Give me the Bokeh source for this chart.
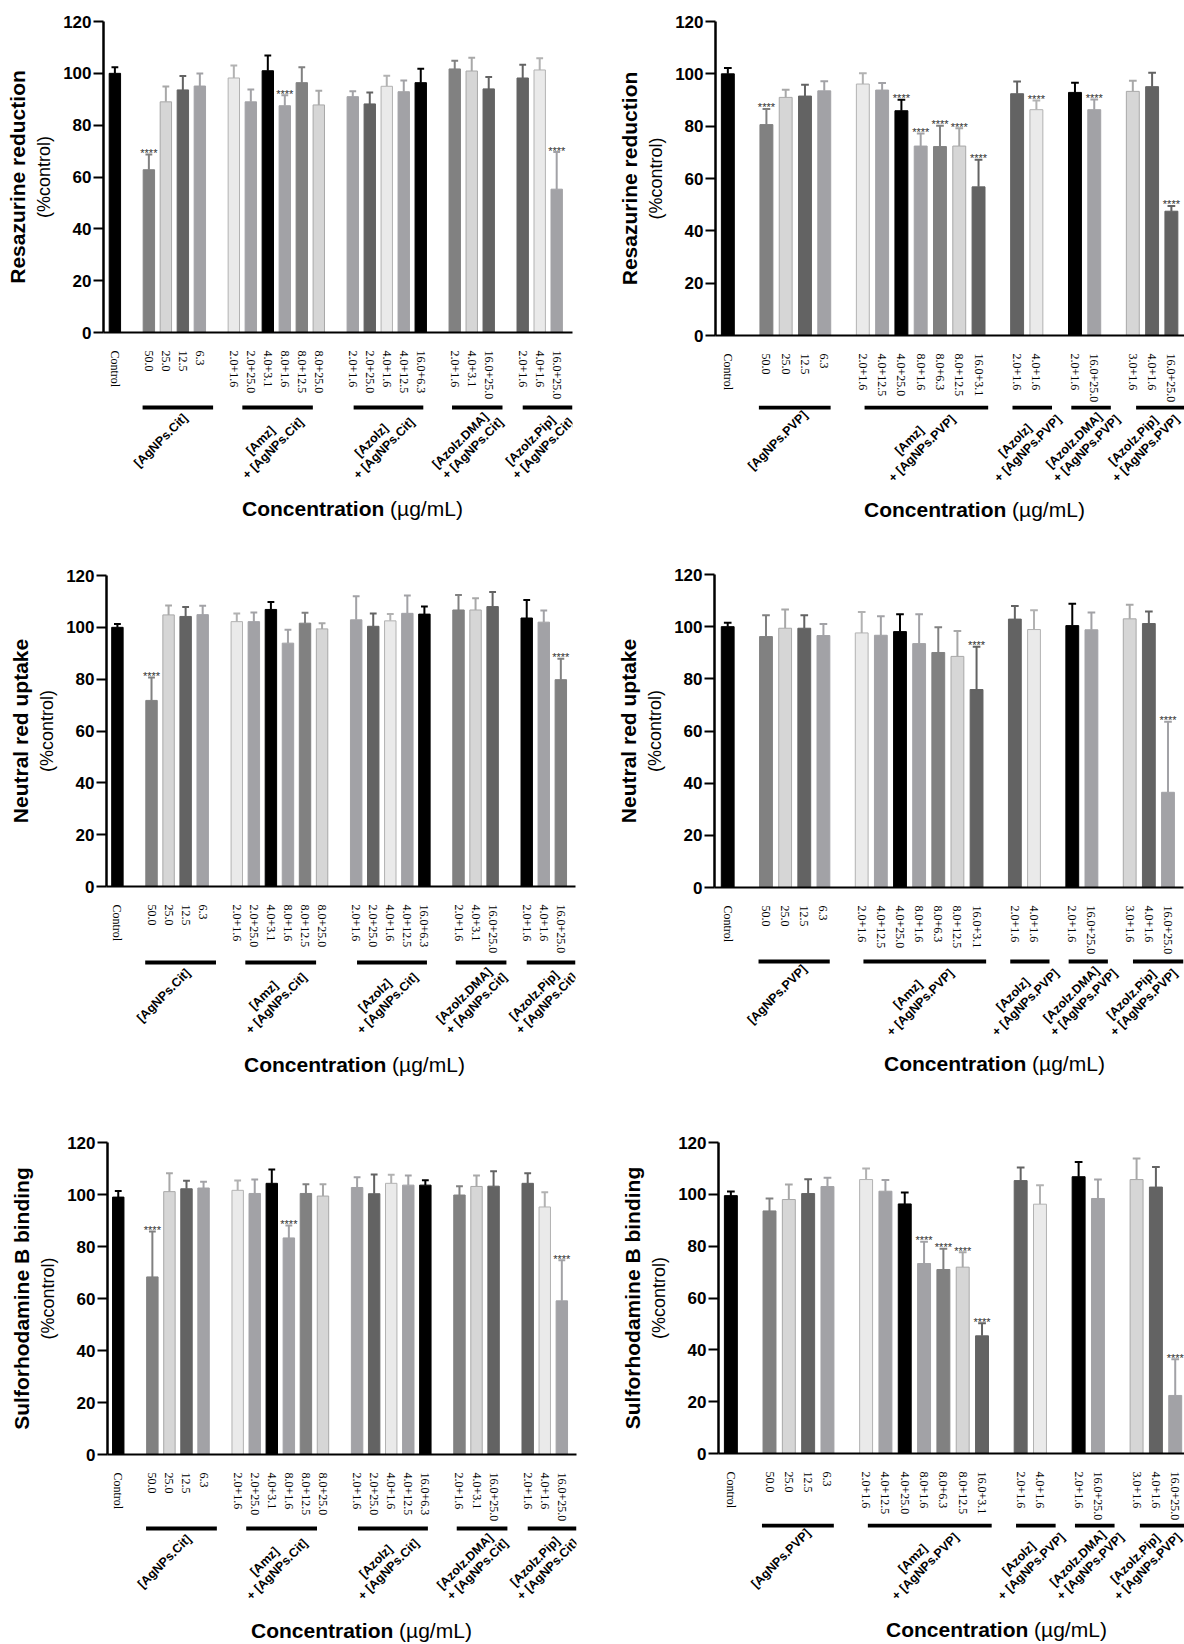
import math
from bokeh.plotting import figure
from bokeh.models import FixedTicker, Range1d, ColumnDataSource, LinearAxis
from bokeh.layouts import row, column
from bokeh.core.properties import value
from bokeh.embed import file_html
from bokeh.resources import INLINE

# ---------------- data ----------------
K, D, M, G, L, W = "#000000", "#636363", "#818181", "#a2a2a6", "#d6d6d6", "#eaeaea"

cit_labels = ["Control", "50.0", "25.0", "12.5", "6.3",
              "2.0+1.6", "2.0+25.0", "4.0+3.1", "8.0+1.6", "8.0+12.5", "8.0+25.0",
              "2.0+1.6", "2.0+25.0", "4.0+1.6", "4.0+12.5", "16.0+6.3",
              "2.0+1.6", "4.0+3.1", "16.0+25.0",
              "2.0+1.6", "4.0+1.6", "16.0+25.0"]
cit_sizes = [1, 4, 6, 5, 3, 3]
cit_groups = [["[AgNPs.Cit]"], ["[Amz]", "+ [AgNPs.Cit]"], ["[Azolz]", "+ [AgNPs.Cit]"],
              ["[Azolz.DMA]", "+ [AgNPs.Cit]"], ["[Azolz.Pip]", "+ [AgNPs.Cit]"]]

pvp_labels = ["Control", "50.0", "25.0", "12.5", "6.3",
              "2.0+1.6", "4.0+12.5", "4.0+25.0", "8.0+1.6", "8.0+6.3", "8.0+12.5", "16.0+3.1",
              "2.0+1.6", "4.0+1.6",
              "2.0+1.6", "16.0+25.0",
              "3.0+1.6", "4.0+1.6", "16.0+25.0"]
pvp_sizes = [1, 4, 7, 2, 2, 3]
pvp_groups = [["[AgNPs.PVP]"], ["[Amz]", "+ [AgNPs.PVP]"], ["[Azolz]", "+ [AgNPs.PVP]"],
              ["[Azolz.DMA]", "+ [AgNPs.PVP]"], ["[Azolz.Pip]", "+ [AgNPs.PVP]"]]

res_cit_mean = [100.0, 62.8, 89.0, 93.6, 95.1, 98.2, 89.0, 101.0, 87.5, 96.4, 87.8,
                91.0, 88.2, 95.0, 92.9, 96.4, 101.7, 100.9, 94.0, 98.2, 101.3, 55.3]
res_cit_sd = [2.3, 5.9, 5.9, 5.4, 4.8, 4.8, 4.8, 5.9, 4.0, 5.9, 5.5,
              2.1, 4.4, 4.1, 4.3, 5.4, 3.2, 5.1, 4.6, 5.1, 4.5, 14.3]
res_cit_colors = [K, M, L, D, G, W, G, K, G, M, L, G, D, W, G, K, M, L, D, D, W, G]
res_cit_stars = [1, 8, 21]

nr_cit_mean = [100.0, 71.8, 104.8, 104.2, 104.9, 102.2, 102.2, 106.9, 93.9, 101.6, 99.4,
               102.9, 100.4, 102.5, 105.4, 105.1, 106.7, 106.7, 108.0, 103.6, 102.0, 79.8]
nr_cit_sd = [1.3, 8.8, 3.6, 3.6, 3.4, 3.1, 3.5, 2.9, 5.2, 4.0, 2.2,
             9.1, 4.9, 2.6, 6.9, 2.9, 5.8, 4.5, 5.6, 6.9, 4.5, 8.1]
nr_cit_colors = [K, M, L, D, G, W, G, K, G, M, L, G, D, W, G, K, M, L, D, K, G, M]
nr_cit_stars = [1, 21]

srb_cit_mean = [99.0, 68.3, 101.1, 102.2, 102.5, 101.6, 100.4, 104.3, 83.3, 100.4, 99.4,
                102.7, 100.3, 104.3, 103.6, 103.6, 99.8, 103.1, 103.2, 104.3, 95.2, 59.1]
srb_cit_sd = [2.3, 17.5, 7.1, 3.1, 2.4, 3.8, 5.4, 5.3, 4.8, 3.5, 4.5,
              3.9, 7.4, 3.3, 3.7, 1.9, 3.4, 4.2, 5.7, 3.9, 5.7, 15.6]
srb_cit_colors = [K, M, L, D, G, W, G, K, G, M, L, G, D, W, G, K, M, L, D, D, W, G]
srb_cit_stars = [1, 8, 21]

res_pvp_mean = [100.0, 80.6, 91.0, 91.5, 93.5, 96.1, 93.8, 85.9, 72.4, 72.2, 72.4, 56.8,
                92.4, 86.3, 92.9, 86.3, 93.3, 95.1, 47.5]
res_pvp_sd = [2.2, 6.0, 2.9, 4.3, 3.7, 4.1, 2.7, 4.2, 4.8, 8.0, 6.8, 10.4,
              4.7, 3.5, 3.7, 3.9, 4.1, 5.3, 2.0]
res_pvp_colors = [K, M, L, D, G, W, G, K, G, M, L, D, D, W, K, G, L, D, D]
res_pvp_stars = [1, 7, 8, 9, 10, 11, 13, 15, 18]

nr_pvp_mean = [100.0, 96.2, 99.4, 99.4, 96.6, 97.6, 96.7, 98.1, 93.5, 90.1, 88.6, 75.9,
               102.9, 98.9, 100.4, 98.8, 103.0, 101.2, 36.5]
nr_pvp_sd = [1.5, 8.2, 7.2, 5.0, 4.4, 8.0, 7.3, 6.7, 11.3, 9.7, 9.7, 16.4,
             5.0, 7.4, 8.4, 6.6, 5.4, 4.6, 27.0]
nr_pvp_colors = [K, M, L, D, G, W, G, K, G, M, L, D, D, W, K, G, L, D, G]
nr_pvp_stars = [11, 18]

srb_pvp_mean = [99.5, 93.6, 98.0, 100.3, 103.0, 105.7, 101.2, 96.3, 73.3, 71.0, 71.9, 45.4,
                105.3, 96.2, 106.8, 98.4, 105.7, 102.8, 22.4]
srb_pvp_sd = [1.6, 4.8, 5.8, 5.5, 3.4, 4.3, 4.3, 4.4, 8.4, 8.0, 5.8, 4.9,
              5.1, 7.3, 5.7, 7.3, 8.1, 7.7, 14.0]
srb_pvp_colors = [K, M, L, D, G, W, G, K, G, M, L, D, D, W, K, G, L, D, G]
srb_pvp_stars = [8, 9, 10, 11, 18]

y_ticks = [0, 20, 40, 60, 80, 100, 120]
ylabels = ["Resazurine reduction", "Neutral red uptake", "Sulforhodamine B binding"]
ysub = "(%control)"
xtitle_bold = "Concentration"
xtitle_unit = "(\u00b5g/mL)"

# ---------------- layout ----------------
OUTLINE = {K: K, D: D, M: M, G: G, L: "#a8a8a8", W: "#b2b2b2"}
SANS = "Liberation Sans"
SERIF = "Liberation Serif"
FIG_W = 592
BBM = 70  # space under the x axis kept inside the main figure

CIT_SPANS = [(1.63, 5.78), (7.5, 11.65), (14.05, 18.15), (19.84, 22.81), (24.0, None)]
PVP_SPANS = [(1.61, 5.33), (7.09, 13.5), (14.76, 16.81), (17.81, 19.86), (21.17, None)]


def positions(sizes):
    pos, p = [], 0
    for s in sizes:
        for _ in range(s):
            pos.append(p)
            p += 1
        p += 1
    return pos


def panel(means, sds, colors, stars, labels, sizes, groups, spans, ylabel,
          bl, xr, bt, fh, row_h, ul, tcx, tb, last_shift=0):
    fw = FIG_W - bl - max(0, FIG_W - bl - 469)
    br = FIG_W - bl - fw
    sx = fw / (xr[1] - xr[0])
    sy = fh / 120.0
    main_h = bt + fh + BBM
    below_h = row_h - main_h

    p = figure(width=FIG_W, height=main_h, title=None, toolbar_location=None,
               output_backend="svg", x_range=Range1d(*xr), y_range=Range1d(0, 120),
               min_border_left=bl, min_border_right=br, min_border_top=bt,
               min_border_bottom=BBM, background_fill_color="white",
               border_fill_color="white")
    p.outline_line_color = None
    p.xgrid.visible = False
    p.ygrid.visible = False

    pos = positions(sizes)
    tops = [m + s for m, s in zip(means, sds)]
    src = ColumnDataSource(dict(
        x=pos, top=means, hi=tops, color=colors, line=[OUTLINE[c] for c in colors],
        cl=[x - 0.2 for x in pos], cr=[x + 0.2 for x in pos]))
    p.segment(x0="x", y0="top", x1="x", y1="hi", line_color="line", line_width=2, source=src)
    p.segment(x0="cl", y0="hi", x1="cr", y1="hi", line_color="line", line_width=2, source=src)
    p.vbar(x="x", top="top", bottom=0, width=0.67, fill_color="color", line_color="line",
           line_width=1, source=src)

    p.text(x=[pos[i] for i in stars], y=[tops[i] + 1.5 / sy for i in stars],
           text=["****"] * len(stars), text_font=value(SANS), text_font_size="11px",
           text_align="center", text_baseline="alphabetic", text_color="#303030")

    xa = p.xaxis[0]
    xa.ticker = FixedTicker(ticks=pos)
    xa.major_label_overrides = {int(x): t for x, t in zip(pos, labels)}
    xa.major_label_orientation = "vertical"
    xa.major_label_text_font = SERIF
    xa.major_label_text_font_size = "12px"
    xa.major_label_text_color = "black"
    xa.major_label_standoff = 12
    xa.major_tick_line_color = None
    xa.minor_tick_line_color = None
    xa.axis_line_width = 2
    xa.axis_line_color = "black"

    ya = p.yaxis[0]
    ya.ticker = FixedTicker(ticks=y_ticks)
    ya.major_tick_out = 10
    ya.major_tick_in = 0
    ya.major_tick_line_width = 2
    ya.minor_tick_line_color = None
    ya.axis_line_width = 2.5
    ya.major_label_standoff = 2
    ya.major_label_text_font = SANS
    ya.major_label_text_font_style = "bold"
    ya.major_label_text_font_size = "17px"
    ya.major_label_text_color = "black"
    ya.axis_label = ysub
    ya.axis_label_text_font = SANS
    ya.axis_label_text_font_style = "normal"
    ya.axis_label_text_font_size = "18px"
    ya.axis_label_text_color = "black"
    ya.axis_label_standoff = 6

    ya2 = LinearAxis(ticker=FixedTicker(ticks=[]), axis_label=ylabel,
                     axis_line_color=None, major_tick_line_color=None,
                     minor_tick_line_color=None, major_label_text_font_size="0px",
                     axis_label_text_font=SANS, axis_label_text_font_style="bold",
                     axis_label_text_font_size="21px", axis_label_text_color="black",
                     axis_label_standoff=3)
    p.add_layout(ya2, "left")

    # ---- area under the axis: group bars, group names, axis title ----
    q = figure(width=FIG_W, height=below_h, title=None, toolbar_location=None,
               output_backend="svg", x_range=p.x_range, y_range=Range1d(-below_h, 0),
               x_axis_type=None, y_axis_type=None,
               min_border_left=bl, min_border_right=br, min_border_top=0,
               min_border_bottom=0, background_fill_color="white",
               border_fill_color="white")
    q.outline_line_color = None

    def yb(d):  # d = pixels below the x axis
        return -(d - BBM)

    la, ra, ctr = [], [], []
    for a, b in spans:
        b = xr[1] if b is None else b
        la.append(a)
        ra.append(b)
        ctr.append((a + b) / 2)
    q.quad(left=la, right=ra, top=[yb(ul - 2)] * len(la), bottom=[yb(ul + 2)] * len(la),
           fill_color="black", line_color=None)

    tx, ty, tt = [], [], []
    ng = len(groups)
    for gi, (c, g) in enumerate(zip(ctr, groups)):
        extra = last_shift if gi == ng - 1 else 0
        for txt, (ox, oy) in zip(g, [(-17, 33), (-4.5, 41)]):
            tx.append(c + (ox + extra) / sx)
            ty.append(yb(ul + oy))
            tt.append(txt)
    q.text(x=tx, y=ty, text=tt, angle=math.pi / 4, text_font=value(SANS),
           text_font_style="bold", text_font_size="12.5px", text_align="center",
           text_baseline="middle", text_color="black")

    xbold = xr[0] + (tcx + 31.8) / sx
    q.text(x=[xbold], y=[yb(tb)], text=[xtitle_bold], text_font=value(SANS),
           text_font_style="bold", text_font_size="21px", text_align="right",
           text_baseline="alphabetic", text_color="black")
    q.text(x=[xbold + 5.8 / sx], y=[yb(tb)], text=[xtitle_unit], text_font=value(SANS),
           text_font_size="21px", text_align="left", text_baseline="alphabetic",
           text_color="black")
    return column(p, q)


p1 = panel(res_cit_mean, res_cit_sd, res_cit_colors, res_cit_stars, cit_labels, cit_sizes,
           cit_groups, CIT_SPANS, ylabels[0], 103, (-0.67, 26.93), 21, 311, 548, 75, 249, 176)
p2 = panel(res_pvp_mean, res_pvp_sd, res_pvp_colors, res_pvp_stars, pvp_labels, pvp_sizes,
           pvp_groups, PVP_SPANS, ylabels[0], 123, (-0.64, 23.68), 21, 314, 548, 72, 259, 174,
           last_shift=-10)
p3 = panel(nr_cit_mean, nr_cit_sd, nr_cit_colors, nr_cit_stars, cit_labels, cit_sizes,
           cit_groups, CIT_SPANS, ylabels[1], 106, (-0.64, 26.86), 27, 311, 566, 76, 248, 178)
p4 = panel(nr_pvp_mean, nr_pvp_sd, nr_pvp_colors, nr_pvp_stars, pvp_labels, pvp_sizes,
           pvp_groups, PVP_SPANS, ylabels[1], 122, (-0.69, 23.81), 26, 313, 566, 74, 280, 176,
           last_shift=-10)
p5 = panel(srb_cit_mean, srb_cit_sd, srb_cit_colors, srb_cit_stars, cit_labels, cit_sizes,
           cit_groups, CIT_SPANS, ylabels[2], 107, (-0.63, 26.86), 28, 312, 528, 74, 254, 176)
p6 = panel(srb_pvp_mean, srb_pvp_sd, srb_pvp_colors, srb_pvp_stars, pvp_labels, pvp_sizes,
           pvp_groups, PVP_SPANS, ylabels[2], 126, (-0.64, 23.48), 28, 311, 528, 72, 278, 176,
           last_shift=-10)

layout = column(row(p1, p2), row(p3, p4), row(p5, p6))
open("out.html", "w").write(file_html(layout, INLINE))
